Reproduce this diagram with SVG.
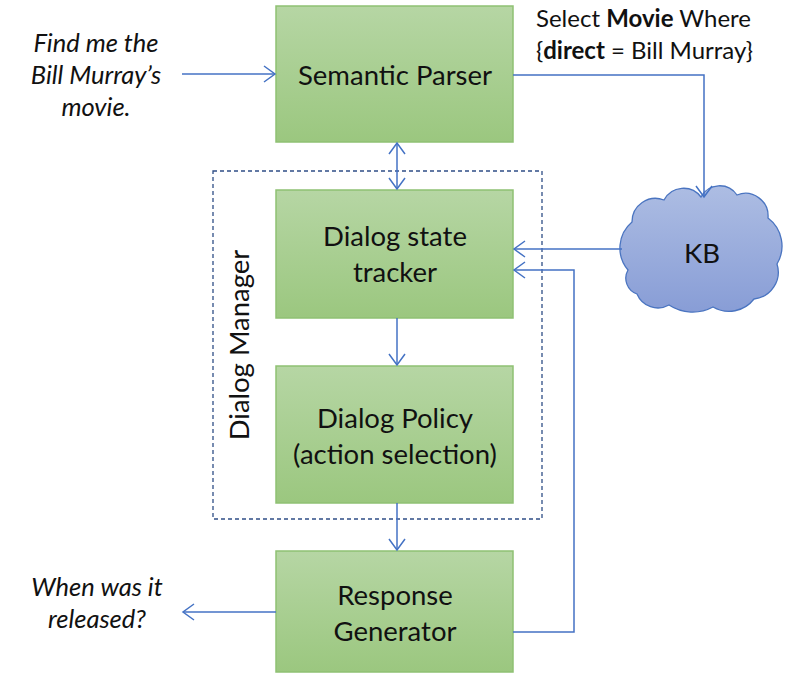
<svg xmlns="http://www.w3.org/2000/svg" width="794" height="681" viewBox="0 0 794 681">
<defs>
<linearGradient id="g" x1="0" y1="0" x2="0" y2="1"><stop offset="0" stop-color="#b6d6a4"/><stop offset="1" stop-color="#9bc77f"/></linearGradient>
<linearGradient id="c" x1="0" y1="0" x2="0" y2="1"><stop offset="0" stop-color="#adbde3"/><stop offset="1" stop-color="#889dd6"/></linearGradient>
<marker id="a" markerUnits="userSpaceOnUse" markerWidth="14" markerHeight="18" refX="12" refY="9" orient="auto-start-reverse"><path d="M1,1 L12,9 L1,17" fill="none" stroke="#4472c4" stroke-width="1.5"/></marker>
<style>
.box{fill:url(#g);stroke:#8fc173;stroke-width:1.5}
.lbl{font-family:Lato,"Liberation Sans",sans-serif;font-size:27.5px;fill:#111;text-anchor:middle}
.it{font-family:Lato,"Liberation Sans",sans-serif;font-size:25.5px;font-style:italic;fill:#111;text-anchor:middle}
.cn{fill:none;stroke:#4472c4;stroke-width:1.5}
.q{font-family:Lato,"Liberation Sans",sans-serif;font-size:24px;fill:#111}
</style>
</defs>
<rect width="794" height="681" fill="#fff"/>
<g id="dialog-manager">
<rect x="213" y="171" width="329" height="348" fill="none" stroke="#2f4e86" stroke-width="1.3" stroke-dasharray="4,3"/>
<text class="lbl" transform="translate(249,345) rotate(-90)">Dialog Manager</text>
</g>
<g id="semantic-parser"><rect class="box" x="276" y="6" width="237" height="136"/><text class="lbl" x="395" y="85">Semantic Parser</text></g>
<g id="dst"><rect class="box" x="276" y="190" width="237" height="128"/><text class="lbl" x="395" y="246">Dialog state</text><text class="lbl" x="395" y="282">tracker</text></g>
<g id="policy"><rect class="box" x="276" y="366" width="237" height="137"/><text class="lbl" x="395" y="428">Dialog Policy</text><text class="lbl" x="395" y="464">(action selection)</text></g>
<g id="response"><rect class="box" x="276" y="551" width="237" height="121"/><text class="lbl" x="395" y="605">Response</text><text class="lbl" x="395" y="641">Generator</text></g>
<g id="kb">
<path d="M628,270 A34,34 0 0 1 632,222 A23.5,23.5 0 0 1 664,200 A22,22 0 0 1 701,197 A21,21 0 0 1 737,195 A22.7,22.7 0 0 1 768,218 A35,35 0 0 1 777,264 A27,27 0 0 1 754,299 A31.6,31.6 0 0 1 713,307 A43,43 0 0 1 669,305 A22.6,22.6 0 0 1 637,294 A16.7,16.7 0 0 1 628,270 Z" fill="url(#c)" stroke="#4a74c0" stroke-width="1.3"/>
<text class="lbl" x="702" y="263">KB</text>
</g>
<g id="input"><text class="it" x="96" y="52">Find me the</text><text class="it" x="96" y="84">Bill Murray’s</text><text class="it" x="96" y="116">movie.</text></g>
<g id="output"><text class="it" x="97" y="596">When was it</text><text class="it" x="97" y="628">released?</text></g>
<g id="query"><text class="q" x="536" y="27">Select <tspan font-weight="bold">Movie</tspan> Where</text><text class="q" x="536" y="59">{<tspan font-weight="bold">direct</tspan> = Bill Murray}</text></g>
<g id="connectors">
<path class="cn" d="M182,74 H275" marker-end="url(#a)"/>
<path class="cn" d="M513,75 H704 V197" marker-end="url(#a)"/>
<path class="cn" d="M397,143 V189" marker-start="url(#a)" marker-end="url(#a)"/>
<path class="cn" d="M622,249 H514" marker-end="url(#a)"/>
<path class="cn" d="M513,632 H574 V270 H514" marker-end="url(#a)"/>
<path class="cn" d="M397,318 V365" marker-end="url(#a)"/>
<path class="cn" d="M397,503 V550" marker-end="url(#a)"/>
<path class="cn" d="M276,612 H183" marker-end="url(#a)"/>
</g>
</svg>
